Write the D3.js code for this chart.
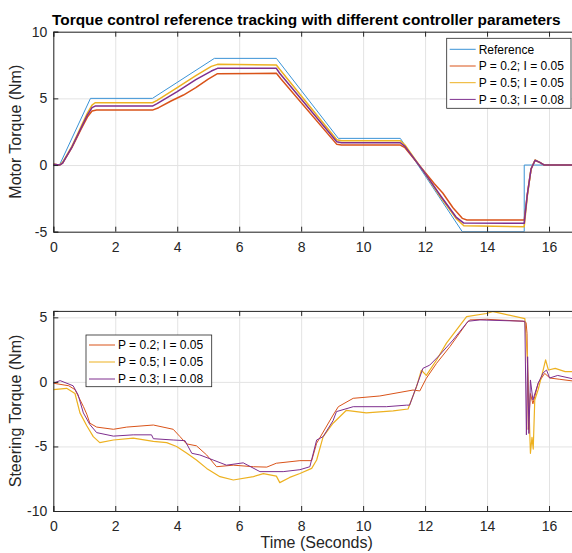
<!DOCTYPE html>
<html>
<head>
<meta charset="utf-8">
<script src="https://cdn.jsdelivr.net/npm/d3@7"></script>
<style>
  body { margin: 0; background: #fff; }
  svg { display: block; font-family: "Liberation Sans", Arial, Helvetica, sans-serif; }
  .axis text { fill: #262626; font-size: 14px; }
  .axis path, .axis line { stroke: #262626; }
  .grid line { stroke: #e3e3e3; }
  .grid path { stroke: none; }
</style>
</head>
<body>
<div id="chart-container"></div>
<script>
// data: [time (s), torque (Nm)]
var seriesNames = ["Reference", "P = 0.2; I = 0.05", "P = 0.5; I = 0.05", "P = 0.3; I = 0.08"];
var colors = ["#3a93d6", "#d95319", "#edb120", "#7e2f8e"];
var xTicks = [0, 2, 4, 6, 8, 10, 12, 14, 16];
var topTicks = [-5, 0, 5, 10];
var bottomTicks = [-10, -5, 0, 5];

var motorRef = [[0,0],[0.2,0],[1.2,5],[3.2,5],[5.2,8],[7.2,8],[9.2,2],[11.2,2],[13.2,-5],[15.2,-5],[15.2,0],[17,0]];
var motorP02 = [[0,0.05],[0.2,0],[0.3,0.15],[0.6,1.3],[0.9,2.7],[1.1,3.6],[1.25,4.05],[1.4,4.12],[3.2,4.12],[3.4,4.3],
  [3.8,4.8],[4.2,5.25],[4.6,5.8],[5.0,6.45],[5.3,6.85],[7.2,6.88],[7.35,6.45],[9.15,1.55],[9.3,1.5],[11.2,1.5],
  [11.35,1.3],[11.93,-0.35],[12.3,-1.4],[12.57,-2.1],[12.9,-3.2],[13.2,-4.0],[13.35,-4.12],[15.2,-4.12],[15.3,-2.2],
  [15.42,-0.3],[15.55,0.35],[15.7,0.2],[15.85,0],[17,0]];
var motorP05 = [[0,0.05],[0.2,0],[0.3,0.2],[0.6,1.4],[0.9,2.9],[1.1,3.9],[1.25,4.5],[1.35,4.67],[3.2,4.67],[3.35,4.85],
  [4.0,5.8],[4.6,6.7],[5.1,7.4],[5.3,7.55],[7.2,7.5],[7.3,7.2],[9.15,1.9],[9.3,1.82],[11.2,1.82],[11.35,1.5],
  [11.93,-0.4],[12.5,-2.4],[13.0,-4.0],[13.25,-4.55],[15.2,-4.62],[15.3,-2.3],[15.42,-0.3],[15.55,0.38],[15.7,0.2],
  [15.85,0],[17,0]];
var motorP03 = [[0,0.05],[0.2,0],[0.3,0.15],[0.6,1.35],[0.9,2.8],[1.1,3.75],[1.25,4.3],[1.35,4.42],[3.2,4.42],[3.35,4.6],
  [4.0,5.5],[4.6,6.4],[5.1,7.05],[5.3,7.25],[7.2,7.25],[7.3,6.9],[9.15,1.75],[9.3,1.67],[11.2,1.67],[11.35,1.4],
  [11.93,-0.4],[12.5,-2.3],[13.0,-3.9],[13.25,-4.35],[15.2,-4.37],[15.3,-2.2],[15.42,-0.3],[15.55,0.36],[15.7,0.2],
  [15.85,0],[17,0]];

var steerP02 = [[0,-0.1],[0.5,-0.3],[0.7,-0.6],[0.97,-1.9],[1.08,-2.5],[1.18,-3.2],[1.4,-3.5],[1.94,-3.67],[2.37,-3.5],
  [3.23,-3.34],[3.87,-3.67],[4.09,-4.24],[4.3,-4.8],[4.62,-4.95],[4.95,-5.66],[5.27,-6.57],[5.81,-6.45],[6.46,-6.57],
  [6.89,-6.6],[7.2,-6.3],[7.96,-6.1],[8.34,-6.1],[8.5,-4.75],[9.03,-2.57],[9.2,-1.92],[9.68,-1.27],[10.54,-1.09],
  [11.61,-0.63],[11.83,-0.7],[12.04,0.28],[12.37,1.44],[12.8,2.73],[13.34,4.54],[13.44,4.8],[13.98,4.85],[15.16,4.7],
  [15.26,4.6],[15.29,3.76],[15.33,-3.7],[15.4,-0.9],[15.48,-1.7],[15.65,-0.1],[15.86,0.66],[16.03,0.3],[16.35,0.2],
  [17,0]];
var steerP05 = [[0,-0.6],[0.43,-0.5],[0.7,-0.9],[0.86,-2.4],[1.08,-3.4],[1.29,-4.24],[1.5,-4.7],[1.94,-4.5],[2.58,-4.35],
  [3.23,-4.6],[3.66,-4.7],[3.98,-5.0],[4.3,-5.5],[4.62,-6.05],[4.95,-6.7],[5.38,-7.34],[5.81,-7.6],[6.46,-7.34],
  [6.78,-7.1],[7.2,-7.3],[7.31,-7.8],[7.63,-7.4],[7.96,-7.1],[8.34,-6.7],[8.5,-6.05],[8.71,-4.24],[9.03,-3.2],
  [9.46,-2.2],[10.1,-2.4],[10.97,-2.25],[11.45,-2.1],[11.72,-0.4],[11.88,0.9],[12.04,0.5],[12.37,1.7],[12.69,3.0],
  [13.34,5.05],[13.98,5.3],[14.2,5.45],[15.22,4.9],[15.3,2.0],[15.4,-5.53],[15.45,-4.3],[15.49,-5.2],[15.54,-1.4],
  [15.65,-0.6],[15.81,0.92],[15.89,1.7],[15.98,0.92],[16.2,1.05],[16.52,0.8],[17,0.8]];
var steerP03 = [[0,-0.1],[0.22,0.1],[0.64,-0.3],[0.8,-1.0],[0.97,-2.4],[1.18,-3.3],[1.4,-3.93],[1.94,-4.2],[2.58,-4.1],
  [3.17,-4.1],[3.23,-4.4],[3.87,-4.5],[4.25,-4.55],[4.47,-5.53],[4.73,-5.66],[5.16,-6.05],[5.59,-6.45],[6.13,-6.27],
  [6.67,-6.95],[7.42,-6.95],[7.96,-6.8],[8.28,-6.57],[8.5,-4.5],[8.71,-4.24],[9.03,-3.0],[9.14,-2.3],[9.68,-1.92],
  [10.75,-1.92],[11.4,-1.8],[11.5,-1.8],[11.72,-0.37],[11.93,1.05],[12.15,1.3],[12.47,2.08],[12.9,3.24],[13.39,4.7],
  [13.77,4.8],[15.22,4.7],[15.27,-4.1],[15.31,1.95],[15.35,-4.0],[15.4,0.15],[15.48,-1.4],[15.65,-0.1],[15.81,0.7],
  [15.92,0.92],[16.02,0.3],[16.28,0.5],[17,0.12]];

var width = 572, height = 553;
var x0 = 53.3, x1 = 580;

var svg = d3.select("#chart-container")
    .append("svg")
    .attr("width", width)
    .attr("height", height);

var x = d3.scaleLinear().domain([0, 17]).range([x0, x1]);

function drawPanel(id, yDomain, yRange, yTicks, lines, yLabel) {
  var y = d3.scaleLinear().domain(yDomain).range(yRange);
  var top = yRange[1], bottom = yRange[0];
  var g = svg.append("g");

  g.append("clipPath").attr("id", id)
    .append("rect").attr("x", x0).attr("y", top).attr("width", x1 - x0).attr("height", bottom - top);

  // grid
  g.append("g").attr("class", "grid")
    .attr("transform", `translate(0,${bottom})`)
    .call(d3.axisBottom(x).tickValues(xTicks).tickSize(-(bottom - top)).tickFormat(""));
  g.append("g").attr("class", "grid")
    .attr("transform", `translate(${x0},0)`)
    .call(d3.axisLeft(y).tickValues(yTicks).tickSize(-(x1 - x0)).tickFormat(""));

  var line = d3.line().x(function(d) { return x(d[0]); }).y(function(d) { return y(d[1]); });

  lines.forEach(function(l) {
    g.append("path")
      .datum(l.data)
      .attr("clip-path", `url(#${id})`)
      .attr("fill", "none")
      .attr("stroke", l.color)
      .attr("stroke-width", l.w)
      .attr("stroke-linejoin", "round")
      .attr("d", line);
  });

  // axes, ticks pointing in
  g.append("g").attr("class", "axis")
    .attr("transform", `translate(0,${bottom})`)
    .call(d3.axisBottom(x).tickValues(xTicks).tickSize(-5).tickPadding(10).tickFormat(function(d) { return String(d); }));
  g.append("g").attr("class", "axis")
    .attr("transform", `translate(0,${top})`)
    .call(d3.axisTop(x).tickValues(xTicks).tickSize(-5).tickFormat(""));
  g.append("g").attr("class", "axis")
    .attr("transform", `translate(${x0},0)`)
    .call(d3.axisLeft(y).tickValues(yTicks).tickSize(-5).tickPadding(6).tickFormat(function(d) { return String(d); }));
  g.selectAll(".axis .domain").attr("stroke-width", 1);

  g.append("text")
    .attr("transform", `translate(21,${(top + bottom) / 2}) rotate(-90)`)
    .attr("text-anchor", "middle")
    .attr("font-size", 16)
    .attr("fill", "#262626")
    .text(yLabel);

  return g;
}

function drawLegend(g, lx, ly, w, rows, items) {
  g.append("rect")
    .attr("x", lx).attr("y", ly).attr("width", w).attr("height", rows.h)
    .attr("fill", "#fff").attr("stroke", "#262626").attr("stroke-width", 0.8);
  items.forEach(function(it, i) {
    var cy = ly + rows.first + i * rows.step;
    g.append("line")
      .attr("x1", lx + 3).attr("x2", lx + 29).attr("y1", cy).attr("y2", cy)
      .attr("stroke", it.color).attr("stroke-width", 1);
    g.append("text")
      .attr("x", lx + 32).attr("y", cy).attr("dy", "0.35em")
      .attr("font-size", 12).attr("fill", "#000")
      .text(it.name);
  });
}

// top panel
var topPanel = drawPanel("clipTop", [-5, 10], [231.7, 31.7], topTicks, [
  { data: motorRef, color: colors[0], w: 1 },
  { data: motorP02, color: colors[1], w: 1.5 },
  { data: motorP05, color: colors[2], w: 1.5 },
  { data: motorP03, color: colors[3], w: 1.5 }
], "Motor Torque (Nm)");

drawLegend(topPanel, 446.7, 38.3, 124.3, { h: 70, first: 11, step: 16.7 },
  seriesNames.map(function(n, i) { return { name: n, color: colors[i] }; }));

// bottom panel
var bottomPanel = drawPanel("clipBottom", [-10, 5.5], [511, 310.9], bottomTicks, [
  { data: steerP02, color: colors[1], w: 1 },
  { data: steerP05, color: colors[2], w: 1.2 },
  { data: steerP03, color: colors[3], w: 1 }
], "Steering Torque (Nm)");

drawLegend(bottomPanel, 86, 335, 125.7, { h: 51.7, first: 10, step: 17 },
  seriesNames.slice(1).map(function(n, i) { return { name: n, color: colors[i + 1] }; }));

svg.append("text")
  .attr("x", (x0 + x1) / 2).attr("y", 548)
  .attr("text-anchor", "middle")
  .attr("font-size", 16)
  .attr("fill", "#262626")
  .text("Time (Seconds)");

svg.append("text")
  .attr("x", 52).attr("y", 24.5)
  .attr("text-anchor", "start")
  .attr("font-size", 15.4)
  .attr("font-weight", "bold")
  .attr("fill", "#000")
  .text("Torque control reference tracking with different controller parameters");
</script>
</body>
</html>
